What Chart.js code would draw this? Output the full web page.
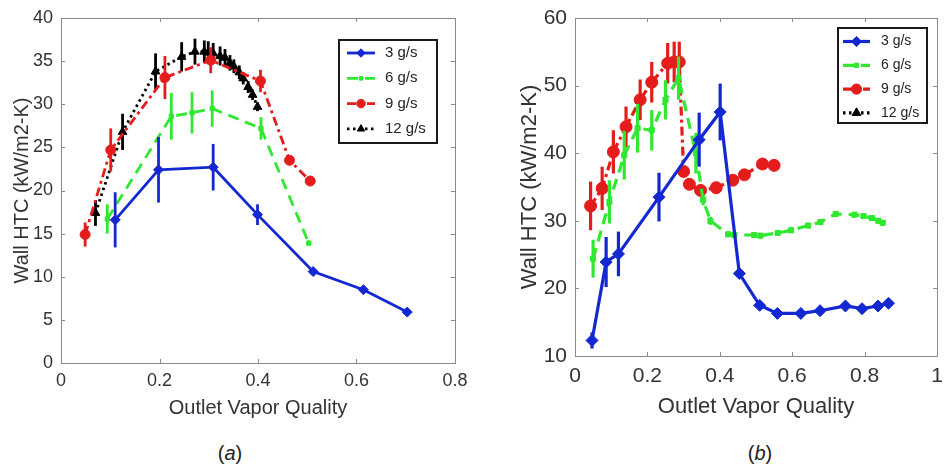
<!DOCTYPE html>
<html lang="en">
<head>
<meta charset="UTF-8">
<title>Wall HTC vs Outlet Vapor Quality</title>
<script src="https://cdn.jsdelivr.net/npm/chart.js@4.4.3/dist/chart.umd.min.js"></script>
<style>
  body { margin: 0; background: #fff; width: 944px; height: 464px; overflow: hidden; position: relative;
         font-family: "Liberation Sans", Arial, sans-serif; }
  canvas { position: absolute; top: 0; }
  #chartA { left: 0; }
  #chartB { left: 470px; }
  .caption { position: absolute; top: 443px; font-size: 20px; line-height: 20px; color: #222;
             transform: translateX(-50%); }
</style>
</head>
<body>
<canvas id="chartA" width="470" height="425"></canvas>
<canvas id="chartB" width="474" height="425"></canvas>
<div class="caption" style="left:230px">(<i>a</i>)</div>
<div class="caption" style="left:760px">(<i>b</i>)</div>

<script>
// ---- data ----
const seriesLabels = ['3 g/s', '6 g/s', '9 g/s', '12 g/s'];

// panel (a)
const a3x = [0.110, 0.198, 0.309, 0.399, 0.512, 0.614, 0.703];
const a3y = [16.6, 22.4, 22.7, 17.2, 10.6, 8.5, 5.9];
const a3e = [3.2, 3.8, 2.7, 1.2, 0.4, 0.3, 0.2];

const a6x = [0.094, 0.224, 0.266, 0.307, 0.406, 0.503];
const a6y = [16.7, 28.6, 29.0, 29.5, 27.2, 13.9];
const a6e = [1.7, 2.7, 2.4, 2.1, 1.3, 0.3];

const a9x = [0.049, 0.101, 0.211, 0.304, 0.405, 0.464, 0.506];
const a9y = [14.9, 24.7, 33.1, 35.1, 32.7, 23.5, 21.1];
const a9e = [1.4, 2.5, 2.5, 1.5, 1.3, 0.3, 0.3];

const a12x = [0.070, 0.125, 0.192, 0.245, 0.272, 0.291, 0.299, 0.309, 0.323, 0.333, 0.343, 0.351, 0.362, 0.370, 0.380, 0.389, 0.399];
const a12y = [17.4, 26.8, 33.8, 35.5, 36.1, 36.1, 36.0, 35.9, 35.6, 35.4, 34.8, 34.4, 33.7, 33.0, 32.0, 31.1, 29.7];
const a12e = [1.5, 2.1, 2.1, 1.7, 1.5, 1.3, 1.3, 1.2, 1.1, 1.0, 0.9, 0.8, 0.8, 0.7, 0.7, 0.6, 0.5];

// panel (b)
const b3x = [0.047, 0.086, 0.120, 0.232, 0.343, 0.401, 0.454, 0.510, 0.559, 0.624, 0.677, 0.747, 0.793, 0.837, 0.866];
const b3y = [12.3, 23.9, 25.1, 33.5, 42.0, 46.1, 22.2, 17.5, 16.3, 16.3, 16.7, 17.4, 17.0, 17.4, 17.8];
const b3e = [1.2, 3.7, 3.3, 3.6, 4.0, 4.2, 0.6, 0.5, 0.4, 0.4, 0.4, 0.4, 0.4, 0.4, 0.4];

const b6x = [0.050, 0.095, 0.136, 0.173, 0.212, 0.250, 0.286, 0.334, 0.354, 0.374, 0.423, 0.440, 0.495, 0.512, 0.560, 0.597, 0.644, 0.678, 0.720, 0.772, 0.797, 0.820, 0.838, 0.850];
const b6y = [24.4, 32.8, 39.7, 43.7, 43.4, 47.9, 51.1, 40.0, 33.1, 30.0, 28.0, 27.9, 27.9, 27.8, 28.2, 28.6, 29.3, 29.8, 31.0, 30.9, 30.7, 30.4, 30.0, 29.7];
const b6e = [2.8, 3.2, 3.6, 3.6, 3.0, 2.9, 3.2, 3.0, 0.8, 0.6, 0.4, 0.4, 0.4, 0.4, 0.4, 0.4, 0.4, 0.4, 0.4, 0.4, 0.4, 0.4, 0.4, 0.4];

const b9x = [0.043, 0.075, 0.106, 0.141, 0.180, 0.212, 0.256, 0.274, 0.288, 0.300, 0.316, 0.347, 0.390, 0.436, 0.468, 0.518, 0.550];
const b9y = [32.2, 34.8, 40.2, 43.9, 47.9, 50.5, 53.3, 53.5, 53.5, 37.3, 35.4, 34.5, 34.9, 36.0, 36.8, 38.4, 38.2];
const b9e = [3.6, 3.2, 3.2, 3.0, 3.0, 3.0, 3.0, 3.0, 3.0, 0.5, 0.5, 0.5, 0.5, 0.5, 0.5, 0.5, 0.5];

const b12x = [];
const b12y = [];
const b12e = [];

// tick labels
const xTicksA = [0, 0.2, 0.4, 0.6, 0.8];
const yTicksA = [0, 5, 10, 15, 20, 25, 30, 35, 40];
const xTicksB = [0, 0.2, 0.4, 0.6, 0.8, 1];
const yTicksB = [10, 20, 30, 40, 50, 60];

// ---- styles ----
const lineStyles = [
  { color: '#1428d2', dash: [], marker: 'rectRot' },
  { color: '#2fe82f', dash: [11, 7], marker: 'rect' },
  { color: '#e41c1c', dash: [9, 4, 3, 4], marker: 'circle' },
  { color: '#000000', dash: [2.5, 3.5], marker: 'triangle' }
];

function series(xs, ys, es, i, size) {
  const st = lineStyles[i];
  const r = st.marker === 'rect' ? size.r * 0.6 : size.r;
  return {
    label: seriesLabels[i],
    data: xs.map((x, k) => ({ x: x, y: ys[k] })),
    err: es,
    showLine: true,
    tension: 0,
    borderColor: st.color,
    backgroundColor: st.color,
    borderWidth: size.lw,
    borderDash: st.dash,
    pointStyle: st.marker,
    pointRadius: r,
    pointHoverRadius: r,
    pointBorderWidth: 1,
    errWidth: size.ew
  };
}

// vertical error bars, drawn just under each dataset
const errorBars = {
  id: 'errorBars',
  beforeDatasetDraw(chart, args) {
    const ds = chart.data.datasets[args.index];
    if (!ds.err || !ds.err.length) return;
    const { ctx, scales: { x, y } } = chart;
    ctx.save();
    ctx.strokeStyle = ds.borderColor;
    ctx.lineWidth = ds.errWidth;
    ctx.setLineDash([]);
    ds.data.forEach((p, i) => {
      const px = x.getPixelForValue(p.x);
      ctx.beginPath();
      ctx.moveTo(px, y.getPixelForValue(p.y - ds.err[i]));
      ctx.lineTo(px, y.getPixelForValue(p.y + ds.err[i]));
      ctx.stroke();
    });
    ctx.restore();
  }
};

// MATLAB style box with inward ticks
const matlabAxes = {
  id: 'matlabAxes',
  beforeDatasetsDraw(chart) {
    const { ctx, chartArea: a, scales } = chart;
    const t = 4;
    ctx.save();
    ctx.strokeStyle = '#8a8a8a';
    ctx.lineWidth = 1;
    ctx.strokeRect(Math.round(a.left) + 0.5, Math.round(a.top) + 0.5,
                   Math.round(a.right - a.left), Math.round(a.bottom - a.top));
    ctx.beginPath();
    scales.x.ticks.forEach(tk => {
      const px = Math.round(scales.x.getPixelForValue(tk.value)) + 0.5;
      ctx.moveTo(px, a.bottom); ctx.lineTo(px, a.bottom - t);
      ctx.moveTo(px, a.top); ctx.lineTo(px, a.top + t);
    });
    scales.y.ticks.forEach(tk => {
      const py = Math.round(scales.y.getPixelForValue(tk.value)) + 0.5;
      ctx.moveTo(a.left, py); ctx.lineTo(a.left + t, py);
      ctx.moveTo(a.right, py); ctx.lineTo(a.right - t, py);
    });
    ctx.stroke();
    ctx.restore();
  }
};

// legend box inside the plot
const boxLegend = {
  id: 'boxLegend',
  afterDraw(chart, args, o) {
    const ctx = chart.ctx;
    ctx.save();
    ctx.fillStyle = '#fff';
    ctx.fillRect(o.x, o.y, o.w, o.h);
    ctx.strokeStyle = '#1a1a1a';
    ctx.lineWidth = 2;
    ctx.strokeRect(o.x, o.y, o.w, o.h);
    chart.data.datasets.forEach((ds, i) => {
      const cy = o.y + o.rowTop + i * o.rowH;
      ctx.strokeStyle = ds.borderColor;
      ctx.lineWidth = ds.borderWidth;
      ctx.setLineDash(ds.borderDash);
      ctx.beginPath();
      ctx.moveTo(o.lineX, cy);
      ctx.lineTo(o.lineX + o.lineW, cy);
      ctx.stroke();
      ctx.setLineDash([]);
      ctx.fillStyle = ds.backgroundColor;
      ctx.lineWidth = 1;
      Chart.helpers.drawPoint(ctx, { pointStyle: ds.pointStyle, radius: ds.pointRadius * 0.85, borderWidth: 1, rotation: 0 },
                              o.lineX + o.lineW / 2, cy);
      ctx.fillStyle = '#222';
      ctx.font = o.font + 'px "Liberation Sans", Arial, sans-serif';
      ctx.textBaseline = 'middle';
      ctx.textAlign = 'left';
      ctx.fillText(ds.label, o.textX, cy);
    });
    ctx.restore();
  }
};

function makeChart(id, datasets, c) {
  const fam = '"Liberation Sans", Arial, sans-serif';
  return new Chart(document.getElementById(id), {
    type: 'scatter',
    data: { datasets: datasets },
    options: {
      responsive: false,
      animation: false,
      events: [],
      layout: { padding: c.pad },
      plugins: { legend: { display: false }, tooltip: { enabled: false }, boxLegend: c.legend },
      scales: {
        x: {
          type: 'linear', min: c.xTicks[0], max: c.xTicks[c.xTicks.length - 1],
          afterBuildTicks: s => { s.ticks = c.xTicks.map(v => ({ value: v })); },
          afterFit: s => { s.height = c.xH; s.paddingLeft = 0; s.paddingRight = 0; },
          grid: { display: false, drawTicks: false },
          border: { display: false },
          ticks: { color: '#333', padding: c.xTickPad, maxRotation: 0, font: { family: fam, size: c.tick },
                   callback: v => String(v) },
          title: { display: true, text: 'Outlet Vapor Quality', color: '#333',
                   font: { family: fam, size: c.title }, padding: { top: 0, bottom: c.xTitlePad } }
        },
        y: {
          type: 'linear', min: c.yTicks[0], max: c.yTicks[c.yTicks.length - 1],
          afterBuildTicks: s => { s.ticks = c.yTicks.map(v => ({ value: v })); },
          afterFit: s => { s.width = c.yW; s.paddingTop = 0; s.paddingBottom = 0; },
          grid: { display: false, drawTicks: false },
          border: { display: false },
          ticks: { color: '#333', padding: 8, font: { family: fam, size: c.tick }, callback: v => String(v) },
          title: { display: true, text: 'Wall HTC (kW/m2-K)', color: '#333',
                   font: { family: fam, size: c.title }, padding: { top: c.yTitlePad, bottom: 0 } }
        }
      }
    },
    plugins: [errorBars, matlabAxes, boxLegend]
  });
}

const sizeA = { r: 5, lw: 2.8, ew: 2.8 };
const sizeB = { r: 6, lw: 3.2, ew: 3.2 };

makeChart('chartA', [
  series(a3x, a3y, a3e, 0, sizeA),
  series(a6x, a6y, a6e, 1, sizeA),
  series(a9x, a9y, a9e, 2, sizeA),
  series(a12x, a12y, a12e, 3, sizeA)
], {
  xTicks: xTicksA, yTicks: yTicksA,
  pad: { left: 0, top: 18, right: 15, bottom: 0 },
  xH: 62, yW: 61, tick: 18, title: 20, xTickPad: 7, xTitlePad: 5, yTitlePad: 10,
  legend: { x: 339, y: 40, w: 98, h: 103, rowTop: 13, rowH: 25.3, lineX: 347, lineW: 28, textX: 385, font: 15 }
});

makeChart('chartB', [
  series(b3x, b3y, b3e, 0, sizeB),
  series(b6x, b6y, b6e, 1, sizeB),
  series(b9x, b9y, b9e, 2, sizeB),
  series(b12x, b12y, b12e, 3, sizeB)
], {
  xTicks: xTicksB, yTicks: yTicksB,
  pad: { left: 0, top: 18, right: 4, bottom: 0 },
  xH: 69, yW: 105, tick: 21, title: 22, xTickPad: 8, xTitlePad: 5, yTitlePad: 47,
  legend: { x: 368, y: 28, w: 89, h: 95, rowTop: 13.5, rowH: 23.8, lineX: 373, lineW: 27, textX: 411, font: 14 }
});
</script>
</body>
</html>
